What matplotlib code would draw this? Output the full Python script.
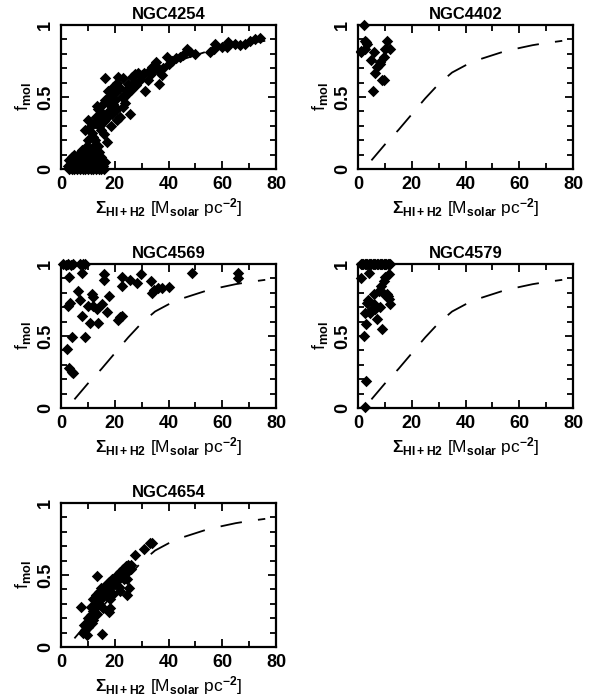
import matplotlib
matplotlib.use("Agg")
import matplotlib.pyplot as plt
from matplotlib.ticker import MultipleLocator, FixedLocator

plt.rcParams['font.family'] = ['Liberation Sans', 'DejaVu Sans']
plt.rcParams['font.weight'] = 'bold'
plt.rcParams['mathtext.fontset'] = 'custom'
plt.rcParams['mathtext.rm'] = 'Liberation Sans:bold'
plt.rcParams['mathtext.bf'] = 'Liberation Sans:bold'
plt.rcParams['mathtext.it'] = 'Liberation Sans:bold'
plt.rcParams['mathtext.default'] = 'rm'

# Model curve (dashed)
model_x = [5, 10, 15, 20, 25, 30, 35, 40, 45, 50, 55, 60, 65, 70, 76]
model_f = [0.06, 0.17, 0.27, 0.38, 0.49, 0.59, 0.67, 0.72, 0.76, 0.79, 0.82, 0.84, 0.86, 0.875, 0.89]

ngc4254_x = [3, 4, 5, 6, 7, 8, 9, 10, 11, 12, 13, 14, 15, 16,
             3.5, 4.5, 5.5, 6.5, 7.5, 8.5, 9.5, 10.5, 11.5, 12.5, 13.5, 14.5, 15.5,
             4, 5, 6, 7, 8, 9, 11, 12, 13, 14, 3, 16.5, 10, 12,
             2.5, 3.5, 4.5, 5.5, 6.5, 7.5, 8.5, 9.5, 10.5, 11.5, 12.5, 13.5, 14.5, 5, 7, 9, 11, 13, 15,
             7.7, 9.6, 10.2, 13.9, 17, 9, 12.7, 10.2, 15.1, 13.3, 13.9, 11.5, 12, 14, 15, 16, 17, 18, 19,
             17.5, 16.4, 20.1, 22.6, 23.8, 25.7, 22, 20.7, 21, 19, 18.5, 17.6, 19.5, 16.4, 21.3, 23.2, 25,
             26.3, 27.5, 29.4, 32.5, 31.3, 28, 26, 24, 22, 20, 21, 24, 27, 30, 28.5, 31, 33, 34, 35, 35.5,
             34.5, 36, 33.5, 36.5, 37.5, 38,
             39.3, 40, 41.2, 42.8, 44.3, 45.5, 46.8, 48, 49.9, 55.5, 57.1, 57.3, 59.8, 61.7, 62.3, 64.8,
             66.6, 68.5, 70.4, 72.2, 74.1,
             11, 13, 14.5, 15.5, 18, 19.5, 23, 12.5, 10.5, 16]
ngc4254_f = [0.0, 0.0, 0.0, 0.0, 0.0, 0.0, 0.0, 0.0, 0.0, 0.0, 0.0, 0.0, 0.0, 0.0,
             0.03, 0.05, 0.04, 0.06, 0.03, 0.05, 0.04, 0.06, 0.03, 0.05, 0.07, 0.04, 0.02,
             0.08, 0.10, 0.09, 0.11, 0.08, 0.10, 0.09, 0.11, 0.10, 0.12, 0.06, 0.05, 0.13, 0.15,
             0.02, 0.01, 0.02, 0.01, 0.02, 0.01, 0.02, 0.01, 0.02, 0.01, 0.02, 0.01, 0.02, 0.07, 0.07, 0.07, 0.07, 0.08, 0.08,
             0.13, 0.16, 0.20, 0.16, 0.19, 0.27, 0.32, 0.34, 0.39, 0.44, 0.42, 0.25, 0.22, 0.30, 0.27, 0.33, 0.36, 0.40, 0.43,
             0.46, 0.48, 0.48, 0.50, 0.46, 0.38, 0.36, 0.34, 0.42, 0.38, 0.30, 0.54, 0.57, 0.63, 0.64, 0.63, 0.59,
             0.64, 0.66, 0.62, 0.62, 0.54, 0.58, 0.55, 0.55, 0.56, 0.53, 0.60, 0.52, 0.60, 0.65, 0.67, 0.67, 0.69, 0.71, 0.72, 0.74,
             0.70, 0.69, 0.66, 0.59, 0.65, 0.70,
             0.78, 0.73, 0.75, 0.77, 0.78, 0.79, 0.83, 0.81, 0.80, 0.81, 0.83, 0.87, 0.85, 0.85, 0.88, 0.87,
             0.86, 0.87, 0.89, 0.90, 0.91,
             0.30, 0.36, 0.35, 0.45, 0.50, 0.45, 0.43, 0.20, 0.12, 0.24]

ngc4402_x = [2.1, 2.7, 3.3, 1.2, 2.5, 5.8, 10.8, 12.0, 9.9, 5.0, 9.5, 8.3, 7.1, 6.5, 9.0, 9.5, 5.5, 1.0, 3.0, 8.0]
ngc4402_f = [1.0, 0.89, 0.87, 0.81, 0.83, 0.81, 0.89, 0.83, 0.83, 0.76, 0.78, 0.74, 0.71, 0.67, 0.62, 0.62, 0.54, 0.82, 0.88, 0.73]

ngc4569_x = [0.9, 2.7, 4.6, 7.0, 8.3, 9.0, 1.8, 3.6,
             3.0, 7.9, 16.1, 16.1, 22.6, 25.7, 28.2, 29.8, 33.5, 22.6, 33.7, 34.7, 36.2, 37.5, 40.2,
             48.6, 65.8, 65.8,
             6.5, 11.7, 12.0, 7.1, 17.9, 15.1, 10.2, 12.0, 13.3, 3.3, 2.7, 17.0, 7.7, 10.8, 13.6,
             22.0, 21.3, 22.6, 4.2, 9.0, 2.1, 3.0, 4.0, 4.6]
ngc4569_f = [1.0, 1.0, 1.0, 1.0, 1.0, 1.0, 0.99, 0.99,
             0.91, 0.94, 0.93, 0.89, 0.91, 0.89, 0.87, 0.93, 0.88, 0.85, 0.80, 0.82, 0.83, 0.83, 0.84,
             0.94, 0.94, 0.90,
             0.81, 0.79, 0.77, 0.75, 0.78, 0.72, 0.71, 0.71, 0.69, 0.73, 0.71, 0.67, 0.64, 0.59, 0.59,
             0.63, 0.61, 0.64, 0.49, 0.49, 0.41, 0.28, 0.25, 0.24]

ngc4579_x = [1, 2, 3, 4, 5, 6, 7, 8, 9, 10, 11, 12, 1.5, 2.5, 3.5, 4.5, 5.5, 6.5, 7.5, 8.5, 9.5, 10.5, 11.5,
             1.2, 4.0, 11.4, 10.2, 9.6, 8.7, 7.7, 5.8, 9.6, 10.8, 11.4, 12.0, 3.7, 3.3, 5.2, 6.5, 2.7,
             4.6, 7.0, 3.0, 8.9, 2.1, 3.0, 2.5, 6.0, 8.0, 11.0]
ngc4579_f = [1.0] * 23 + \
            [0.90, 0.94, 0.93, 0.91, 0.88, 0.85, 0.81, 0.79, 0.79, 0.79, 0.76, 0.72, 0.75, 0.73, 0.69, 0.69, 0.66,
             0.66, 0.62, 0.58, 0.55, 0.50, 0.19, 0.01, 0.72, 0.70, 0.78]

ngc4654_x = [7.4, 13.5, 15.4, 18.1, 17.8, 18.4, 24.6, 25.4, 24.6, 27.6, 30.7, 33.2, 34.0,
             8, 8.5, 9, 10, 10, 10.5, 11, 11, 12, 12, 12.5, 13, 13, 14, 14, 14.5, 15, 15, 16, 16, 16.5,
             17, 17, 18, 18, 19, 19, 20, 20, 21, 21, 22, 22, 23, 23, 24, 24, 25, 25, 26, 26,
             9.5, 11.5, 13.5, 15.5, 19.5, 21.5, 23.5, 12, 10, 22]
ngc4654_f = [0.28, 0.49, 0.09, 0.27, 0.24, 0.33, 0.36, 0.41, 0.47, 0.64, 0.68, 0.72, 0.72,
             0.10, 0.15, 0.12, 0.14, 0.20, 0.18, 0.22, 0.28, 0.25, 0.33, 0.30, 0.28, 0.36, 0.30, 0.38, 0.34,
             0.33, 0.41, 0.36, 0.42, 0.39, 0.38, 0.44, 0.40, 0.45, 0.43, 0.47, 0.44, 0.48, 0.47, 0.50,
             0.48, 0.52, 0.50, 0.54, 0.52, 0.56, 0.53, 0.57, 0.54, 0.57,
             0.08, 0.17, 0.23, 0.27, 0.37, 0.42, 0.47, 0.19, 0.14, 0.39]

panels = [
    ("NGC4254", ngc4254_x, ngc4254_f),
    ("NGC4402", ngc4402_x, ngc4402_f),
    ("NGC4569", ngc4569_x, ngc4569_f),
    ("NGC4579", ngc4579_x, ngc4579_f),
    ("NGC4654", ngc4654_x, ngc4654_f),
]

W, H = 597, 696
fig = plt.figure(figsize=(W / 100, H / 100), dpi=100)

lefts = [61, 358]
tops = [25, 264, 503]
aw, ah = 215, 144

for i, (name, xs, fs) in enumerate(panels):
    r, c = divmod(i, 2)
    l = lefts[c] / W
    b = 1 - (tops[r] + ah) / H
    ax = fig.add_axes([l, b, aw / W, ah / H])
    ax.plot(model_x, model_f, color='black', lw=1.3, linestyle=(0, (12, 9)))
    ax.scatter(xs, fs, marker='D', s=34, color='black', linewidths=0, zorder=3, clip_on=False)
    ax.set_xlim(0, 80)
    ax.set_ylim(0, 1)
    ax.xaxis.set_major_locator(MultipleLocator(20))
    ax.xaxis.set_minor_locator(MultipleLocator(10))
    ax.yaxis.set_major_locator(FixedLocator([0, 0.5, 1]))
    ax.yaxis.set_minor_locator(MultipleLocator(0.1))
    ax.set_yticklabels(['0', '0.5', '1'], rotation=90, va='center')
    ax.tick_params(which='both', direction='in', top=True, right=True, width=1.3, labelsize=13)
    ax.tick_params(which='major', length=6, pad=5)
    ax.tick_params(which='minor', length=4)
    for sp in ax.spines.values():
        sp.set_linewidth(1.6)
    ax.set_title(name, fontsize=12, fontweight='bold', pad=4)
    ax.set_xlabel(r'$\Sigma_{HI+H2}$ [M$_{solar}$ pc$^{-2}$]', fontsize=12.5, labelpad=2)
    ax.set_ylabel(r'f$_{mol}$', fontsize=13, labelpad=3)

fig.savefig("out.png", dpi=100)
